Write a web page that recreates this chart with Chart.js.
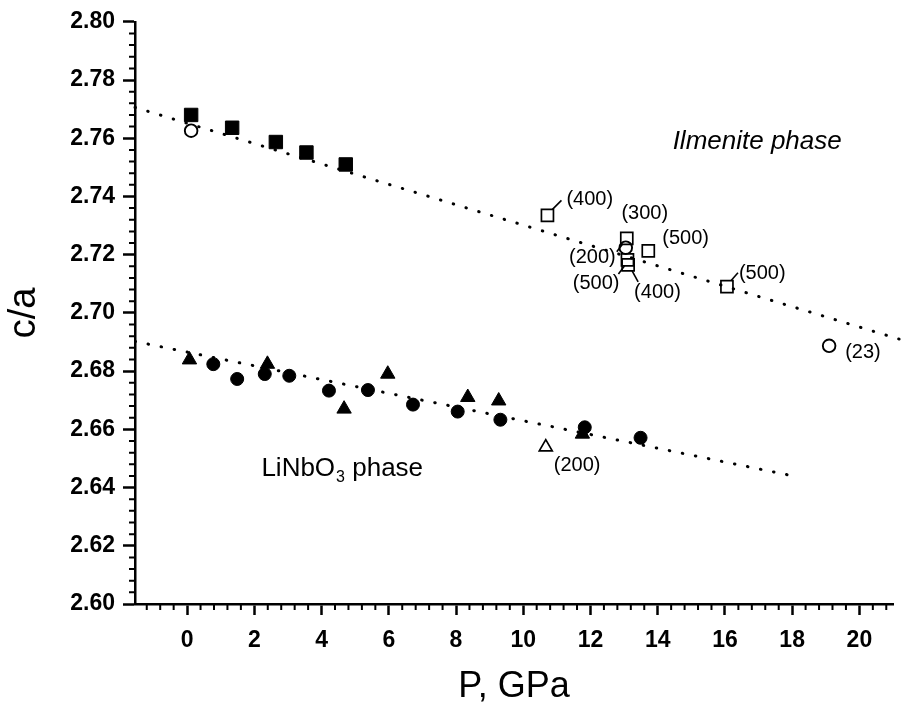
<!DOCTYPE html>
<html>
<head>
<meta charset="utf-8">
<script src="https://cdn.jsdelivr.net/npm/chart.js@4.4.1/dist/chart.umd.min.js"></script>
<style>
  html, body { margin: 0; padding: 0; background: #fff; }
  #wrap { width: 906px; height: 711px; }
</style>
</head>
<body>
<div id="wrap"><canvas id="chart" width="906" height="711"></canvas></div>
<script>
// axis ranges / ticks
const xMin = -1.55, xMax = 21, xStep = 2;
const yMin = 2.60, yMax = 2.80, yStep = 0.02;

// Ilmenite phase, filled squares
const ilmX = [0.12, 1.34, 2.64, 3.55, 4.72];
const ilmY = [2.768, 2.7636, 2.7587, 2.7551, 2.751];

// open squares with annealing labels
const openSqX = [10.72, 13.08, 13.72, 13.10, 13.12, 16.06];
const openSqY = [2.7335, 2.7256, 2.7213, 2.7182, 2.7165, 2.709];
const openSqLabels = ['(400)', '(300)', '(500)', '(500)', '(400)', '(500)'];

// open circles
const openCircX = [0.12, 13.05, 19.1];
const openCircY = [2.7626, 2.7224, 2.6887];
const openCircLabels = ['', '(200)', '(23)'];

// LiNbO3 phase, filled circles
const linCircX = [0.78, 1.49, 2.31, 3.04, 4.22, 5.38, 6.72, 8.05, 9.32, 11.83, 13.49];
const linCircY = [2.6824, 2.6773, 2.679, 2.6784, 2.6733, 2.6735, 2.6685, 2.6661, 2.6633, 2.6607, 2.6571];

// LiNbO3 phase, filled triangles
const linTriX = [0.07, 2.39, 4.67, 5.97, 8.35, 9.27, 11.76];
const linTriY = [2.6839, 2.6824, 2.667, 2.679, 2.671, 2.6698, 2.6584];

// open triangle
const openTriX = [10.67];
const openTriY = [2.6539];
const openTriLabels = ['(200)'];

// dotted fit lines
const ilmFitX = [-1.55, 21.3];
const ilmFitY = [2.7706, 2.6906];
const linFitX = [-1.55, 17.9];
const linFitY = [2.6902, 2.6443];

function pts(xs, ys) {
  return xs.map(function (x, i) { return { x: x, y: ys[i] }; });
}

const FONT = '"Liberation Sans", Arial, sans-serif';

// where the small labels go, relative to their marker (pixels)
const labelLayout = {
  openSq: [
    { dx: 19, dy: -16, align: 'left', leader: [5, -6, 14, -15] },
    { dx: 18, dy: -25, align: 'center' },
    { dx: 14, dy: -12, align: 'left' },
    { dx: -8, dy: 24, align: 'right', leader: [-9, 14, -3, 6] },
    { dx: 6, dy: 28, align: 'left', leader: [4, 6, 10, 17] },
    { dx: 12, dy: -13, align: 'left', leader: [4, -6, 11, -14] }
  ],
  openCirc: [
    null,
    { dx: -10, dy: 10, align: 'right', leader: [-9, 4, -3, -4] },
    { dx: 16, dy: 7, align: 'left' }
  ],
  openTri: [
    { dx: 8, dy: 18, align: 'left' }
  ]
};

const annotations = {
  id: 'annotations',
  afterDraw(chart) {
    const ctx = chart.ctx;
    const xs = chart.scales.x, ys = chart.scales.y;
    ctx.save();
    ctx.strokeStyle = '#000';
    ctx.fillStyle = '#000';

    // minor ticks
    ctx.lineWidth = 2;
    ctx.beginPath();
    for (let k = 0; k <= 50; k++) {
      if (k % 5 === 0) continue;
      const py = ys.getPixelForValue(yMin + k * 0.004);
      ctx.moveTo(xs.left - 6, py);
      ctx.lineTo(xs.left, py);
    }
    for (let k = -4; k <= 53; k++) {
      if (k % 5 === 0) continue;
      const v = k * 0.4;
      if (v < xMin || v > xMax) continue;
      const px = xs.getPixelForValue(v);
      ctx.moveTo(px, ys.bottom);
      ctx.lineTo(px, ys.bottom + 6);
    }
    ctx.stroke();

    // point labels and leader lines
    ctx.font = '20px ' + FONT;
    ctx.textBaseline = 'middle';
    ctx.lineWidth = 1.6;
    const groups = [
      ['openSq', openSqX, openSqY, openSqLabels],
      ['openCirc', openCircX, openCircY, openCircLabels],
      ['openTri', openTriX, openTriY, openTriLabels]
    ];
    groups.forEach(function (g) {
      const lay = labelLayout[g[0]];
      g[3].forEach(function (txt, i) {
        const l = lay[i];
        if (!txt || !l) return;
        const px = xs.getPixelForValue(g[1][i]);
        const py = ys.getPixelForValue(g[2][i]);
        ctx.textAlign = l.align;
        ctx.fillText(txt, px + l.dx, py + l.dy);
        if (l.leader) {
          ctx.beginPath();
          ctx.moveTo(px + l.leader[0], py + l.leader[1]);
          ctx.lineTo(px + l.leader[2], py + l.leader[3]);
          ctx.stroke();
        }
      });
    });

    // phase names
    ctx.textAlign = 'center';
    ctx.font = 'italic 26px ' + FONT;
    ctx.fillText('Ilmenite phase', xs.getPixelForValue(16.96), ys.getPixelForValue(2.7589));

    ctx.textAlign = 'left';
    let x0 = xs.getPixelForValue(2.21);
    const y0 = ys.getPixelForValue(2.6466);
    ctx.font = '26px ' + FONT;
    ctx.fillText('LiNbO', x0, y0);
    x0 += ctx.measureText('LiNbO').width;
    ctx.font = '16px ' + FONT;
    ctx.fillText('3', x0 + 1, y0 + 9);
    x0 += ctx.measureText('3').width + 1;
    ctx.font = '26px ' + FONT;
    ctx.fillText(' phase', x0, y0);
    ctx.restore();
  }
};

const ctx = document.getElementById('chart').getContext('2d');
new Chart(ctx, {
  type: 'scatter',
  data: {
    datasets: [
      { label: 'ilm', data: pts(ilmX, ilmY), pointStyle: 'rect', pointRadius: 9.5,
        backgroundColor: '#000', borderColor: '#000', borderWidth: 1, order: 1 },
      { label: 'openSq', data: pts(openSqX, openSqY), pointStyle: 'rect', pointRadius: 8.5,
        backgroundColor: 'rgba(255,255,255,0)', borderColor: '#000', borderWidth: 1.7, order: 1 },
      { label: 'openCirc', data: pts(openCircX, openCircY), pointStyle: 'circle', pointRadius: 6.3,
        backgroundColor: 'rgba(255,255,255,0)', borderColor: '#000', borderWidth: 1.9, order: 1 },
      { label: 'linCirc', data: pts(linCircX, linCircY), pointStyle: 'circle', pointRadius: 6.5,
        backgroundColor: '#000', borderColor: '#000', borderWidth: 1, order: 1 },
      { label: 'linTri', data: pts(linTriX, linTriY), pointStyle: 'triangle', pointRadius: 8.3,
        backgroundColor: '#000', borderColor: '#000', borderWidth: 1, order: 1 },
      { label: 'openTri', data: pts(openTriX, openTriY), pointStyle: 'triangle', pointRadius: 7.5,
        backgroundColor: 'rgba(255,255,255,0)', borderColor: '#000', borderWidth: 1.7, order: 1 },
      { label: 'ilmFit', data: pts(ilmFitX, ilmFitY), showLine: true, pointRadius: 0, clip: false,
        borderColor: '#000', borderWidth: 3, borderDash: [0.5, 12.8], borderCapStyle: 'round', order: 2 },
      { label: 'linFit', data: pts(linFitX, linFitY), showLine: true, pointRadius: 0,
        borderColor: '#000', borderWidth: 3, borderDash: [0.5, 12.8], borderCapStyle: 'round', order: 2 }
    ]
  },
  options: {
    responsive: false,
    animation: false,
    events: [],
    layout: { padding: { left: 0, right: 13, top: 20, bottom: 0 } },
    plugins: { legend: { display: false }, tooltip: { enabled: false } },
    scales: {
      x: {
        type: 'linear', min: xMin, max: xMax,
        afterFit(scale) { scale.height = 107; },
        border: { display: true, color: '#000', width: 2.5 },
        grid: { drawOnChartArea: false, drawTicks: true, tickLength: 11, tickColor: '#000', tickWidth: 2.5 },
        ticks: { stepSize: xStep, includeBounds: false, color: '#000', padding: 12,
          font: { family: FONT, size: 23, weight: 'bold' }, maxRotation: 0 },
        title: { display: true, text: 'P, GPa', color: '#000', padding: { top: 2, bottom: 2 },
          font: { family: FONT, size: 36 } }
      },
      y: {
        type: 'linear', min: yMin, max: yMax,
        afterFit(scale) { scale.width = 135; },
        border: { display: true, color: '#000', width: 2.5 },
        grid: { drawOnChartArea: false, drawTicks: true, tickLength: 12, tickColor: '#000', tickWidth: 2.5 },
        ticks: { stepSize: yStep, color: '#000', padding: 8,
          font: { family: FONT, size: 23, weight: 'bold' },
          callback: function (v) { return v.toFixed(2); } },
        title: { display: true, text: 'c/a', color: '#000', padding: { top: 2, bottom: 2 },
          font: { family: FONT, size: 38 } }
      }
    }
  },
  plugins: [annotations]
});
</script>
</body>
</html>
